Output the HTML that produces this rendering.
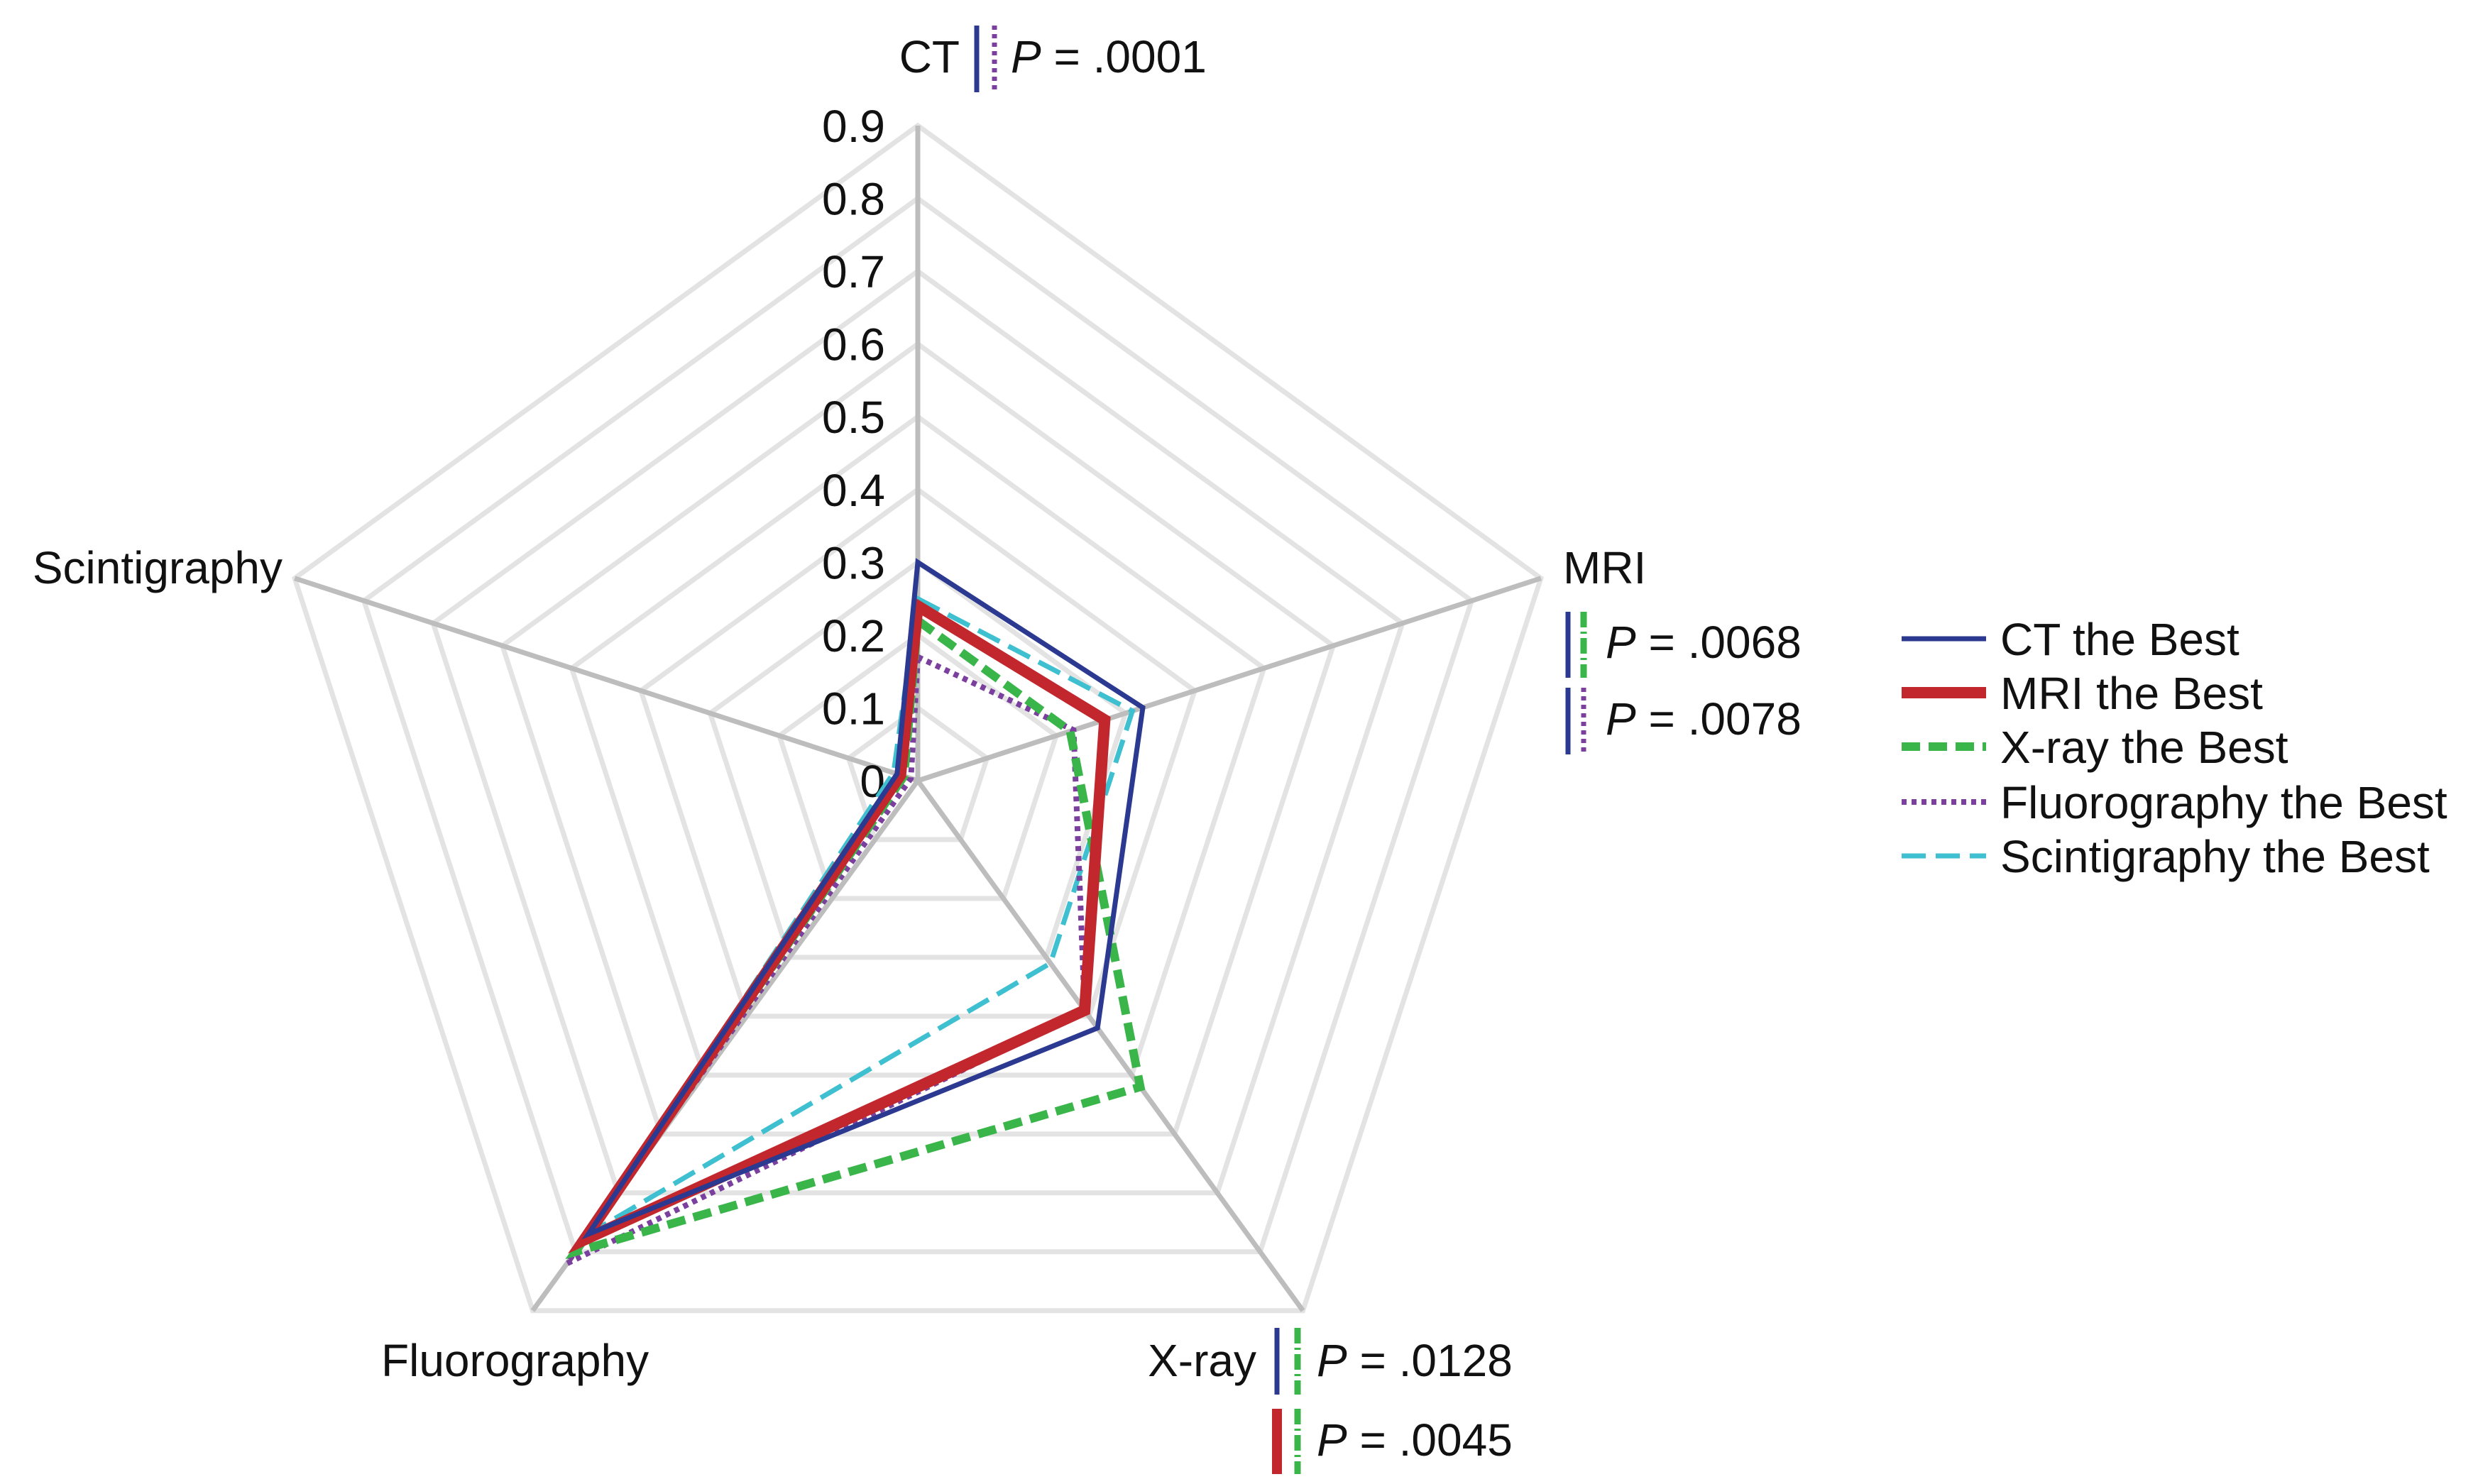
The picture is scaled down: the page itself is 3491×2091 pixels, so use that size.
<!DOCTYPE html>
<html><head><meta charset="utf-8"><style>
html,body{margin:0;padding:0;background:#fff}
svg{display:block}
text{font-family:"Liberation Sans",Arial,sans-serif;fill:#111}
</style></head><body>
<svg id="chart" width="3491" height="2091" viewBox="0 0 3491 2091" xmlns="http://www.w3.org/2000/svg">
<g id="grid"></g>
<g id="ticks"></g>
<g id="series"></g>
<g id="labels">
  <text x="1352" y="102" font-size="64" text-anchor="end">CT</text>
  <line x1="1376" y1="36" x2="1376" y2="130" stroke="#2b3990" stroke-width="7"/>
  <line x1="1401" y1="36" x2="1401" y2="130" stroke="#7b3f9e" stroke-width="7" stroke-dasharray="6,6"/>
  <text x="1424" y="102" font-size="64"><tspan font-style="italic">P</tspan> = .0001</text>

  <text x="2202" y="822" font-size="64">MRI</text>
  <line x1="2209" y1="862" x2="2209" y2="955" stroke="#2b3990" stroke-width="7"/>
  <line x1="2231" y1="862" x2="2231" y2="955" stroke="#39b54a" stroke-width="9" stroke-dasharray="22,6,3,6"/>
  <text x="2262" y="927" font-size="64"><tspan font-style="italic">P</tspan> = .0068</text>
  <line x1="2209" y1="969" x2="2209" y2="1063" stroke="#2b3990" stroke-width="7"/>
  <line x1="2231" y1="969" x2="2231" y2="1063" stroke="#7b3f9e" stroke-width="7" stroke-dasharray="6,6"/>
  <text x="2262" y="1035" font-size="64"><tspan font-style="italic">P</tspan> = .0078</text>

  <text x="398" y="822" font-size="64" text-anchor="end">Scintigraphy</text>
  <text x="537" y="1939" font-size="64">Fluorography</text>

  <text x="1770" y="1939" font-size="64" text-anchor="end">X-ray</text>
  <line x1="1799" y1="1871" x2="1799" y2="1965" stroke="#2b3990" stroke-width="7"/>
  <line x1="1828" y1="1871" x2="1828" y2="1965" stroke="#39b54a" stroke-width="9" stroke-dasharray="22,6,3,6"/>
  <text x="1855" y="1939" font-size="64"><tspan font-style="italic">P</tspan> = .0128</text>
  <line x1="1799" y1="1985" x2="1799" y2="2077" stroke="#c1272d" stroke-width="14"/>
  <line x1="1828" y1="1985" x2="1828" y2="2077" stroke="#39b54a" stroke-width="9" stroke-dasharray="22,6,3,6"/>
  <text x="1855" y="2051" font-size="64"><tspan font-style="italic">P</tspan> = .0045</text>
</g>
<g id="legend"></g>
</svg>
<script>
const axes = ["CT","MRI","X-ray","Fluorography","Scintigraphy"];
const tickLabels = ["0","0.1","0.2","0.3","0.4","0.5","0.6","0.7","0.8","0.9"];
const ctBest = [0.30,0.325,0.42,0.77,0.03];
const mriBest = [0.24,0.27,0.39,0.78,0.025];
const xrayBest = [0.22,0.22,0.52,0.80,0.02];
const fluoroBest = [0.17,0.225,0.39,0.82,0.01];
const scintiBest = [0.25,0.31,0.31,0.77,0.035];
const seriesNames = ["CT the Best","MRI the Best","X-ray the Best","Fluorography the Best","Scintigraphy the Best"];

const NS="http://www.w3.org/2000/svg";
const cx=1293, cy=1100, R=923, maxV=0.9;
function ang(i){return (-90+72*i)*Math.PI/180;}
function pt(i,v){const r=v/maxV*R;return [cx+r*Math.cos(ang(i)), cy+r*Math.sin(ang(i))];}
function mk(tag,attrs,parent){const e=document.createElementNS(NS,tag);for(const k in attrs)e.setAttribute(k,attrs[k]);parent.appendChild(e);return e;}

const grid=document.getElementById('grid');
for(let t=1;t<tickLabels.length;t++){
  const v=parseFloat(tickLabels[t]);
  const p=axes.map((a,i)=>pt(i,v).join(',')).join(' ');
  const g=mk('polygon',{points:p,fill:'none',stroke:'#e3e3e3','stroke-width':7},grid);
  
  
}
axes.forEach((a,i)=>{
  const e=pt(i,maxV);
  const s=mk('line',{x1:cx,y1:cy,x2:e[0],y2:e[1],stroke:'#bdbdbd','stroke-width':7},grid);
  
  
});
const ticks=document.getElementById('ticks');
tickLabels.forEach(t=>{
  const v=parseFloat(t);
  const y=cy - v/maxV*R;
  const tx=mk('text',{x:1247,y:y+23,'font-size':64,'text-anchor':'end'},ticks);
  tx.textContent=t;
  
  
});
const styles=[
  {stroke:'#2b3990',w:7,dash:''},
  {stroke:'#c1272d',w:16,dash:''},
  {stroke:'#39b54a',w:12,dash:'26,12'},
  {stroke:'#7b3f9e',w:8,dash:'7,7'},
  {stroke:'#3fc0d0',w:7,dash:'34,14'}
];
const allSeries=[ctBest,mriBest,xrayBest,fluoroBest,scintiBest];
const sg=document.getElementById('series');
const order=[4,3,2,1,0];
order.forEach(k=>{
  const d=allSeries[k];const st=styles[k];
  const p=d.map((v,i)=>pt(i,v).join(',')).join(' ');
  const el=mk('polygon',{points:p,fill:'none',stroke:st.stroke,'stroke-width':st.w,'stroke-dasharray':st.dash,'stroke-linejoin':'miter'},sg);
  
  
});
const lg=document.getElementById('legend');
const ly=[900,976,1052,1130,1206];
seriesNames.forEach((n,k)=>{
  const st=styles[k];
  const l=mk('line',{x1:2679,y1:ly[k],x2:2798,y2:ly[k],stroke:st.stroke,'stroke-width':st.w,'stroke-dasharray':st.dash},lg);
  
  
  const t=mk('text',{x:2818,y:ly[k]+23,'font-size':64},lg);
  t.textContent=n;
  
  
});
</script>
</body></html>
